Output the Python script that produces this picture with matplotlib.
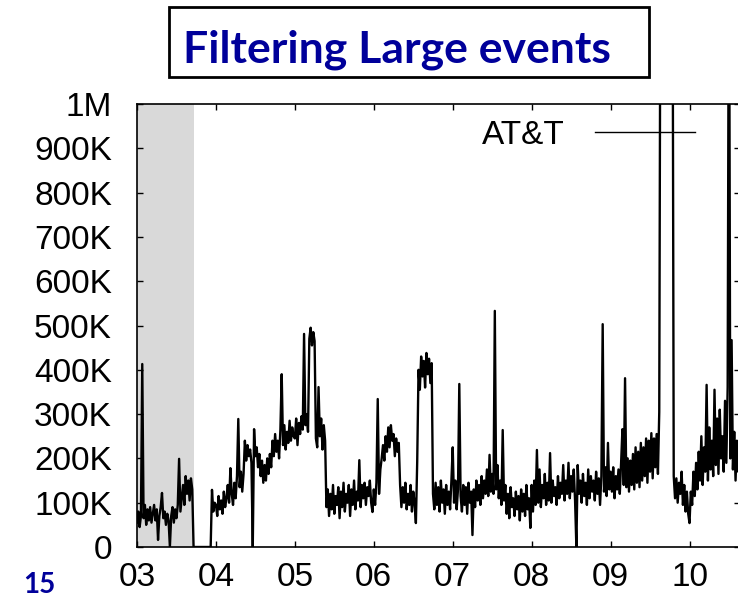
import numpy as np
import matplotlib.pyplot as plt
from matplotlib.patches import Rectangle
from matplotlib.ticker import FixedLocator, FixedFormatter

# samples per year: 60, values in thousands (1500 = off the top of the scale)
y03 = [55, 80, 45, 70, 413, 65, 95, 50, 85, 60,
       90, 55, 75, 95, 60, 85, 16, 70, 90, 122,
       65, 80, 50, 75, 60, 0, 70, 90, 55, 85,
       65, 95, 199, 80, 110, 140, 95, 160, 120, 150, 105, 155, 130,
       0, 0, 0, 0, 0, 0, 0, 0, 0, 0, 0, 0, 0, 0,
       129, 80, 100]
y04 = [95, 70, 115, 85, 105, 75, 125, 90, 110, 140,
       100, 178, 120, 95, 145, 110, 160, 289, 135, 170,
       125, 165, 240, 195, 230, 205, 220, 190, 0, 266,
       205, 225, 180, 210, 160, 195, 145, 185, 150, 200,
       165, 210, 180, 240, 205, 255, 215, 240, 200, 265,
       390, 230, 275, 220, 260, 235, 285, 240, 270, 250]
y05 = [245, 290, 230, 280, 255, 295, 265, 481, 275, 300,
       260, 470, 495, 455, 485, 465, 245, 225, 361, 250,
       290, 220, 275, 240, 90, 130, 70, 120, 85, 140,
       75, 115, 95, 135, 65, 125, 90, 145, 80, 120,
       100, 140, 70, 130, 95, 150, 85, 125, 105, 196,
       90, 140, 110, 145, 95, 135, 115, 150, 100, 79]
y06 = [130, 95, 145, 334, 120, 175, 200, 230, 195, 250,
       215, 270, 225, 275, 240, 255, 205, 245, 215, 235,
       140, 90, 135, 100, 145, 85, 120, 95, 140, 80,
       125, 100, 54, 192, 400, 355, 430, 385, 420, 360,
       438, 390, 425, 370, 415, 120, 85, 145, 95, 135,
       80, 150, 100, 130, 75, 140, 95, 125, 85, 150]
y07 = [225, 100, 150, 85, 130, 368, 115, 80, 140, 95,
       135, 75, 145, 100, 125, 27, 130, 90, 150, 105,
       140, 95, 160, 110, 150, 120, 175, 115, 208, 125,
       165, 120, 533, 130, 185, 110, 150, 95, 264, 105,
       140, 75, 120, 65, 135, 90, 110, 70, 125, 85,
       115, 60, 130, 80, 120, 70, 140, 85, 110, 43]
y08 = [140, 80, 150, 95, 219, 100, 175, 90, 140, 110,
       165, 95, 145, 105, 212, 100, 150, 115, 135, 95,
       160, 110, 145, 120, 185, 105, 150, 120, 190, 110,
       160, 125, 175, 105, 0, 185, 120, 150, 100, 165,
       115, 145, 95, 175, 110, 160, 125, 150, 105, 170,
       120, 155, 95, 160, 503, 125, 180, 115, 235, 130]
y09 = [170, 125, 180, 110, 160, 130, 175, 120, 190, 266,
       140, 381, 135, 200, 125, 195, 140, 210, 130, 225,
       145, 215, 135, 235, 150, 225, 160, 245, 145, 240,
       170, 257, 155, 245, 180, 255, 165, 305, 1500, 1500,
       1500, 1500, 1500, 1500, 1500, 1500, 1500, 1500, 160, 110,
       155, 100, 145, 120, 170, 95, 140, 80, 125, 75]
y10 = [54, 125, 95, 170, 115, 190, 130, 215, 150, 250,
       140, 225, 170, 366, 150, 270, 175, 240, 160, 355,
       185, 290, 165, 310, 200, 250, 170, 330, 190, 361,
       1500, 200, 467, 175, 260, 150, 240, 170, 230, 190]

years = [3, 4, 5, 6, 7, 8, 9, 10]
series = [y03, y04, y05, y06, y07, y08, y09, y10]

x = np.concatenate([yr + np.arange(len(s)) / 60 for yr, s in zip(years, series)])
y = np.concatenate([np.array(s, dtype=float) for s in series])

xticks = [3, 4, 5, 6, 7, 8, 9, 10]
xlabels = ['03', '04', '05', '06', '07', '08', '09', '10']
yticks = [0, 100, 200, 300, 400, 500, 600, 700, 800, 900, 1000]
ylabels = ['0', '100K', '200K', '300K', '400K', '500K', '600K', '700K', '800K', '900K', '1M']
shade = (3.0, 3.72)

W, H = 738, 599
fig = plt.figure(figsize=(W / 100, H / 100), dpi=100)
ax = fig.add_axes([137 / W, 52 / H, 603 / W, 443 / H])

ax.axvspan(shade[0], shade[1], color='#d9d9d9', lw=0, zorder=0)
ax.plot(x, y, color='black', lw=1.7, label='AT&T', zorder=2)

ax.set_xlim(3.0, 3.0 + 603 / 78.93)
ax.set_ylim(0, 1000)
ax.xaxis.set_major_locator(FixedLocator(xticks))
ax.xaxis.set_major_formatter(FixedFormatter(xlabels))
ax.yaxis.set_major_locator(FixedLocator(yticks))
ax.yaxis.set_major_formatter(FixedFormatter(ylabels))
ax.tick_params(direction='in', top=True, right=True, length=4, width=1,
               labelsize=24, pad=11)
ax.tick_params(axis='y', pad=18)
for lab in ax.get_xticklabels() + ax.get_yticklabels():
    lab.set_fontfamily('Liberation Sans')
for sp in ax.spines.values():
    sp.set_linewidth(1.2)

leg = ax.legend(loc='upper right', bbox_to_anchor=(0.925, 0.964), frameon=False,
                markerfirst=False, handlelength=3.0, handletextpad=0.9,
                borderpad=0, borderaxespad=0,
                prop={'family': 'Liberation Sans', 'size': 24})
for h in leg.get_lines():
    h.set_linewidth(1.0)

# title box
fig.patches.append(Rectangle((169 / W, 1 - 77 / H), 480 / W, 70 / H, transform=fig.transFigure,
                             fill=False, edgecolor='black', lw=2))
fig.text(183 / W, 1 - 50 / H, 'Filtering Large events', color='#00009a', fontsize=32,
         fontweight='bold', family='Lato', va='center', ha='left')
fig.text(39 / W, 1 - 585 / H, '15', color='#00009a', fontsize=20, fontweight='bold',
         family='Lato', va='center', ha='center')

fig.savefig('out.png', dpi=100)
